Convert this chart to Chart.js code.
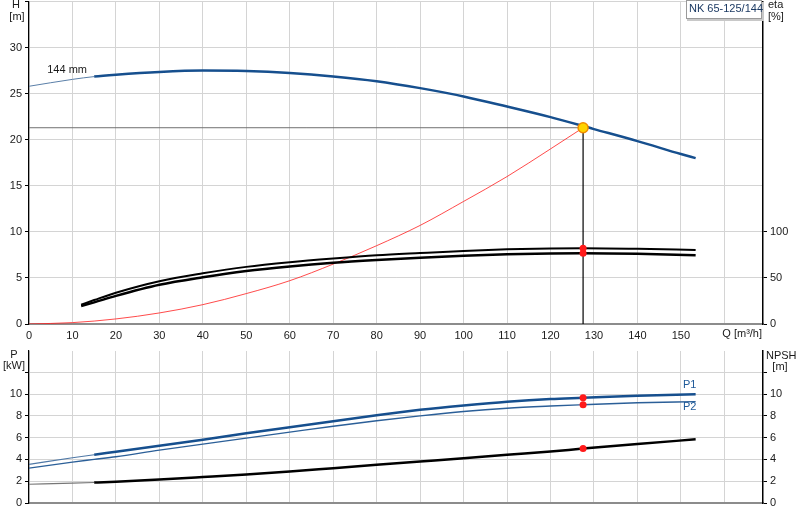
<!DOCTYPE html>
<html><head><meta charset="utf-8">
<script src="https://cdn.jsdelivr.net/npm/chart.js@4.4.1/dist/chart.umd.min.js"></script>
<style>body{margin:0;background:#fff;overflow:hidden}canvas{position:absolute;left:0}</style>
</head><body>
<canvas id="cTop" width="800" height="350" style="top:-5px"></canvas>
<canvas id="cBot" width="800" height="180" style="top:340px"></canvas>
<script>
// ---- data ----
const qH = [0, 10, 15, 20, 30, 40, 50, 60, 70, 80, 90, 100, 110, 120, 130, 140, 150, 153.4];
const headH = [25.8, 26.55, 26.85, 27.05, 27.35, 27.5, 27.45, 27.24, 26.87, 26.35, 25.6, 24.7, 23.6, 22.45, 21.15, 19.85, 18.45, 18.0];
const qSys = [0, 10, 20, 30, 40, 50, 60, 70, 80, 90, 100, 110, 120, 127.5];
const headSys = [0, 0.15, 0.55, 1.2, 2.1, 3.3, 4.7, 6.5, 8.5, 10.7, 13.3, 16.0, 19.0, 21.3];
const qEta = [12, 15, 20, 30, 40, 50, 60, 70, 80, 90, 100, 110, 120, 127.5, 140, 153.4];
const eta1 = [21, 26, 34, 46.5, 55, 62, 67, 71, 74.5, 77, 79.3, 81, 82, 82.3, 81.7, 80.4];
const eta2 = [19.5, 23.5, 30.5, 42.5, 50.7, 57.5, 62.5, 66.5, 69.5, 72, 74, 75.6, 76.5, 76.8, 76.2, 74.6];
const qP = [0, 10, 15, 20, 30, 40, 50, 60, 70, 80, 90, 100, 110, 120, 127.5, 140, 153.4];
const powerP1 = [3.55, 4.15, 4.43, 4.7, 5.25, 5.8, 6.4, 6.95, 7.5, 8.05, 8.55, 8.95, 9.3, 9.55, 9.66, 9.85, 9.97];
const powerP2 = [3.2, 3.75, 4.0, 4.25, 4.85, 5.4, 5.95, 6.5, 7.05, 7.55, 8.0, 8.4, 8.7, 8.9, 9.02, 9.2, 9.3];
const npsh = [1.72, 1.82, 1.88, 1.95, 2.15, 2.38, 2.62, 2.9, 3.2, 3.5, 3.8, 4.1, 4.42, 4.72, 5.0, 5.42, 5.84];
const dutyQ = 127.5, dutyH = 21.3;
const dutyEta = [82.3, 76.8];
const dutyPower = [9.66, 9.02];
const dutyNpsh = 5.0;
const hTickMax = 35, etaTicks = [0, 50, 100], pTickMax = 12;
const pumpName = 'NK 65-125/144', impLabel = '144 mm';

// ---- helpers ----
const pts = (xs, ys) => xs.map((x, i) => ({x, y: ys[i]}));
const FONT = '"Liberation Sans", Arial, sans-serif';
Chart.defaults.font.family = FONT;
Chart.defaults.font.size = 11;
Chart.defaults.color = '#1a1a1a';
const BLUE = '#164f8e', GRID = '#d4d4d4';
const OFF = 5; // top canvas is shifted up by this many px
const thin = (lim, w, wThin) => ctx => (ctx.p0.parsed.x < lim ? wThin : w);
const thinCol = (lim, c, cThin) => ctx => (ctx.p0.parsed.x < lim ? cThin : c);
const xCommon = {
  type: 'linear', min: 0, max: 168.9,
  ticks: {stepSize: 10, includeBounds: false, padding: 5, maxRotation: 0,
    callback: v => (v >= 160 ? '' : v)},
  grid: {color: GRID, drawTicks: false},
  border: {color: '#8c8c8c', width: 2}
};
const noPad = s => { s.paddingTop = 0; s.paddingBottom = 0; };
const leftW = s => { s.width = 29; noPad(s); };
const rightW = s => { s.width = 37; noPad(s); };

const textPlugin = (draw) => ({id: 'txt' + Math.floor(Math.random() * 1e6), afterDraw(chart) {
  const c = chart.ctx; c.save(); c.font = '11px ' + FONT; c.textBaseline = 'middle'; draw(chart, c); c.restore();
}});

// ---- top chart ----
new Chart(document.getElementById('cTop'), {
  type: 'line',
  data: {datasets: [
    {data: [{x: dutyQ, y: dutyH}], pointRadius: 5, pointBackgroundColor: '#ffd400', pointBorderColor: '#f08c00', pointBorderWidth: 1.5, showLine: false},
    {data: dutyEta.map(v => ({x: dutyQ, y: v})), yAxisID: 'yEta', pointRadius: 3.5, pointBackgroundColor: '#ff1a1a', pointBorderWidth: 0, showLine: false},
    {data: pts(qH, headH), borderColor: BLUE, pointRadius: 0, cubicInterpolationMode: 'monotone',
      segment: {borderWidth: thin(15, 2.5, 1), borderColor: thinCol(15, BLUE, '#5a7fa8')}},
    {data: pts(qEta, eta1), yAxisID: 'yEta', borderColor: '#000', borderWidth: 2, pointRadius: 0, cubicInterpolationMode: 'monotone'},
    {data: pts(qEta, eta2), yAxisID: 'yEta', borderColor: '#000', borderWidth: 2.5, pointRadius: 0, cubicInterpolationMode: 'monotone'},
    {data: pts(qSys, headSys), borderColor: 'rgba(255,30,30,0.8)', borderWidth: 1, pointRadius: 0, cubicInterpolationMode: 'monotone'},
    {data: [{x: dutyQ, y: dutyH}, {x: dutyQ, y: 0}], borderColor: '#000', borderWidth: 1.2, pointRadius: 0},
    {data: [{x: 0, y: dutyH}, {x: dutyQ, y: dutyH}], borderColor: '#707070', borderWidth: 1, pointRadius: 0}
  ]},
  options: {
    responsive: false, animation: false, devicePixelRatio: 1,
    layout: {padding: {top: 0, left: 0, right: 0, bottom: 0}},
    plugins: {legend: {display: false}, tooltip: {enabled: false}},
    scales: {
      x: Object.assign({}, xCommon, {afterFit: s => { s.height = 21; }}),
      y: {type: 'linear', position: 'left', min: 0, max: hTickMax,
        ticks: {stepSize: 5, padding: 3, callback: v => (v >= hTickMax ? '' : v)},
        grid: {color: GRID, tickColor: '#000', tickLength: 4},
        border: {color: '#000', width: 1.2}, afterFit: leftW},
      yEta: {type: 'linear', position: 'right', min: 0, max: hTickMax * 10,
        afterBuildTicks: s => { s.ticks = etaTicks.map(v => ({value: v})); },
        ticks: {padding: 3},
        grid: {drawOnChartArea: false, tickColor: '#000', tickLength: 4},
        border: {color: '#000', width: 1.5}, afterFit: rightW}
    }
  },
  plugins: [textPlugin((chart, c) => {
    const xs = chart.scales.x, ys = chart.scales.y;
    c.fillStyle = '#1a1a1a';
    c.textAlign = 'center';
    c.fillText('H', 16, 5 + OFF); c.fillText('[m]', 17, 17 + OFF);
    c.textAlign = 'left';
    c.fillText('eta', 768, 5 + OFF); c.fillText('[%]', 768, 17 + OFF);
    c.fillText('Q [m³/h]', xs.getPixelForValue(160) - 2, 334 + OFF);
    c.fillText(impLabel, xs.getPixelForValue(4.2), ys.getPixelForValue(27.6));
    // title box
    c.fillStyle = '#c8c8c8'; c.fillRect(687, 2 + OFF, 77, 19);
    c.fillStyle = '#fff'; c.fillRect(686, 1 + OFF, 76, 18);
    c.strokeStyle = '#9a9a9a'; c.lineWidth = 1; c.strokeRect(686.5, 0.5 + OFF, 75, 18);
    c.fillStyle = '#1c3a63'; c.fillText(pumpName, 689, 9 + OFF);
  })]
});

// ---- bottom chart ----
new Chart(document.getElementById('cBot'), {
  type: 'line',
  data: {datasets: [
    {data: dutyPower.map(v => ({x: dutyQ, y: v})).concat([{x: dutyQ, y: dutyNpsh}]), pointRadius: 3.5, pointBackgroundColor: '#ff1a1a', pointBorderWidth: 0, showLine: false},
    {data: pts(qP, powerP1), borderColor: BLUE, pointRadius: 0, cubicInterpolationMode: 'monotone',
      segment: {borderWidth: thin(15, 2.5, 1.2), borderColor: thinCol(15, BLUE, '#4f78a6')}},
    {data: pts(qP, powerP2), borderColor: '#2b5f98', borderWidth: 1.4, pointRadius: 0, cubicInterpolationMode: 'monotone'},
    {data: pts(qP, npsh), yAxisID: 'yN', borderColor: '#000', pointRadius: 0, cubicInterpolationMode: 'monotone',
      segment: {borderWidth: thin(15, 2.5, 1.2), borderColor: thinCol(15, '#000', '#777')}}
  ]},
  options: {
    responsive: false, animation: false, devicePixelRatio: 1,
    layout: {padding: {top: 11, left: 0, right: 0, bottom: 0}},
    plugins: {legend: {display: false}, tooltip: {enabled: false}},
    scales: {
      x: Object.assign({}, xCommon, {ticks: {display: false, stepSize: 10, includeBounds: false}, afterFit: s => { s.height = 17; }}),
      y: {type: 'linear', position: 'left', min: 0, max: 13.95,
        ticks: {stepSize: 2, includeBounds: false, padding: 3, callback: v => (v >= pTickMax ? '' : v)},
        grid: {color: GRID, tickColor: '#000', tickLength: 4},
        border: {color: '#000', width: 1.2}, afterFit: leftW},
      yN: {type: 'linear', position: 'right', min: 0, max: 13.95,
        ticks: {stepSize: 2, includeBounds: false, padding: 3, callback: v => (v >= pTickMax ? '' : v)},
        grid: {drawOnChartArea: false, tickColor: '#000', tickLength: 4},
        border: {color: '#000', width: 1.5}, afterFit: rightW}
    }
  },
  plugins: [textPlugin((chart, c) => {
    const xs = chart.scales.x, ys = chart.scales.y;
    c.fillStyle = '#1a1a1a';
    c.textAlign = 'center';
    c.fillText('P', 14, 15); c.fillText('[kW]', 14, 26);
    c.fillText('[m]', 780, 27);
    c.textAlign = 'left';
    c.fillText('NPSH', 766, 16);
    c.fillStyle = '#1f5a99';
    c.fillText('P1', xs.getPixelForValue(150.5), ys.getPixelForValue(10.8));
    c.fillText('P2', xs.getPixelForValue(150.5), ys.getPixelForValue(8.8));
  })]
});
</script>
</body></html>
